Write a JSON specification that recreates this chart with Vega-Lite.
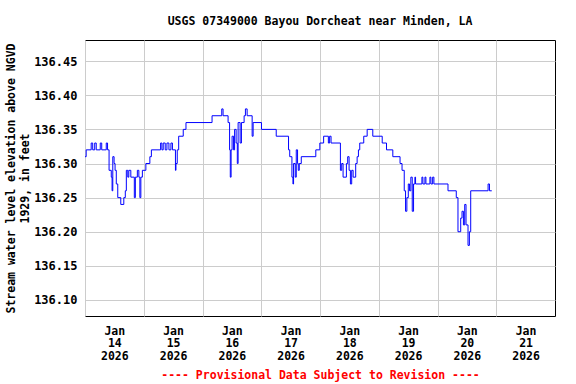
{
  "$schema": "https://vega.github.io/schema/vega-lite/v6.json",
  "width": 470,
  "height": 276,
  "autosize": {"type": "none"},
  "padding": {"left": 85, "top": 40, "right": 21, "bottom": 68},
  "background": "white",
  "title": {
    "text": "USGS 07349000 Bayou Dorcheat near Minden, LA",
    "font": "DejaVu Sans Mono",
    "fontSize": 11.5,
    "fontWeight": "bold",
    "color": "black",
    "anchor": "middle",
    "offset": 13
  },
  "data": {
    "values": [
      {"t": "2026-01-14T00:00", "v": 136.31},
      {"t": "2026-01-14T00:29", "v": 136.32},
      {"t": "2026-01-14T02:32", "v": 136.33},
      {"t": "2026-01-14T03:09", "v": 136.32},
      {"t": "2026-01-14T03:58", "v": 136.33},
      {"t": "2026-01-14T04:35", "v": 136.32},
      {"t": "2026-01-14T06:14", "v": 136.33},
      {"t": "2026-01-14T06:50", "v": 136.32},
      {"t": "2026-01-14T08:41", "v": 136.33},
      {"t": "2026-01-14T09:13", "v": 136.32},
      {"t": "2026-01-14T09:50", "v": 136.29},
      {"t": "2026-01-14T10:44", "v": 136.28},
      {"t": "2026-01-14T11:04", "v": 136.26},
      {"t": "2026-01-14T11:21", "v": 136.31},
      {"t": "2026-01-14T11:53", "v": 136.30},
      {"t": "2026-01-14T12:17", "v": 136.29},
      {"t": "2026-01-14T12:47", "v": 136.27},
      {"t": "2026-01-14T13:23", "v": 136.25},
      {"t": "2026-01-14T14:37", "v": 136.24},
      {"t": "2026-01-14T15:51", "v": 136.25},
      {"t": "2026-01-14T16:28", "v": 136.26},
      {"t": "2026-01-14T16:53", "v": 136.29},
      {"t": "2026-01-14T17:29", "v": 136.28},
      {"t": "2026-01-14T17:54", "v": 136.29},
      {"t": "2026-01-14T18:43", "v": 136.28},
      {"t": "2026-01-14T20:09", "v": 136.25},
      {"t": "2026-01-14T20:34", "v": 136.28},
      {"t": "2026-01-14T21:23", "v": 136.29},
      {"t": "2026-01-14T22:00", "v": 136.28},
      {"t": "2026-01-14T22:25", "v": 136.25},
      {"t": "2026-01-14T22:49", "v": 136.28},
      {"t": "2026-01-14T23:26", "v": 136.29},
      {"t": "2026-01-15T00:52", "v": 136.30},
      {"t": "2026-01-15T02:30", "v": 136.31},
      {"t": "2026-01-15T03:07", "v": 136.32},
      {"t": "2026-01-15T06:53", "v": 136.33},
      {"t": "2026-01-15T07:25", "v": 136.32},
      {"t": "2026-01-15T07:57", "v": 136.33},
      {"t": "2026-01-15T08:46", "v": 136.32},
      {"t": "2026-01-15T09:28", "v": 136.33},
      {"t": "2026-01-15T10:17", "v": 136.32},
      {"t": "2026-01-15T11:06", "v": 136.33},
      {"t": "2026-01-15T11:43", "v": 136.32},
      {"t": "2026-01-15T12:57", "v": 136.29},
      {"t": "2026-01-15T13:09", "v": 136.30},
      {"t": "2026-01-15T13:41", "v": 136.32},
      {"t": "2026-01-15T14:16", "v": 136.34},
      {"t": "2026-01-15T16:08", "v": 136.35},
      {"t": "2026-01-15T17:15", "v": 136.36},
      {"t": "2026-01-16T03:54", "v": 136.37},
      {"t": "2026-01-16T07:52", "v": 136.38},
      {"t": "2026-01-16T08:24", "v": 136.37},
      {"t": "2026-01-16T10:27", "v": 136.36},
      {"t": "2026-01-16T11:04", "v": 136.32},
      {"t": "2026-01-16T11:21", "v": 136.28},
      {"t": "2026-01-16T11:41", "v": 136.32},
      {"t": "2026-01-16T12:05", "v": 136.34},
      {"t": "2026-01-16T12:42", "v": 136.32},
      {"t": "2026-01-16T13:07", "v": 136.35},
      {"t": "2026-01-16T13:44", "v": 136.33},
      {"t": "2026-01-16T14:13", "v": 136.30},
      {"t": "2026-01-16T14:33", "v": 136.36},
      {"t": "2026-01-16T15:22", "v": 136.33},
      {"t": "2026-01-16T15:54", "v": 136.36},
      {"t": "2026-01-16T17:00", "v": 136.37},
      {"t": "2026-01-16T17:32", "v": 136.38},
      {"t": "2026-01-16T18:14", "v": 136.37},
      {"t": "2026-01-16T20:17", "v": 136.34},
      {"t": "2026-01-16T20:41", "v": 136.36},
      {"t": "2026-01-17T00:05", "v": 136.35},
      {"t": "2026-01-17T06:07", "v": 136.34},
      {"t": "2026-01-17T11:09", "v": 136.32},
      {"t": "2026-01-17T11:38", "v": 136.31},
      {"t": "2026-01-17T12:32", "v": 136.28},
      {"t": "2026-01-17T12:57", "v": 136.27},
      {"t": "2026-01-17T13:12", "v": 136.30},
      {"t": "2026-01-17T13:53", "v": 136.28},
      {"t": "2026-01-17T14:18", "v": 136.32},
      {"t": "2026-01-17T14:50", "v": 136.30},
      {"t": "2026-01-17T15:07", "v": 136.29},
      {"t": "2026-01-17T15:32", "v": 136.30},
      {"t": "2026-01-17T16:21", "v": 136.31},
      {"t": "2026-01-17T22:17", "v": 136.32},
      {"t": "2026-01-17T23:56", "v": 136.33},
      {"t": "2026-01-18T01:29", "v": 136.34},
      {"t": "2026-01-18T03:25", "v": 136.33},
      {"t": "2026-01-18T03:56", "v": 136.34},
      {"t": "2026-01-18T04:31", "v": 136.33},
      {"t": "2026-01-18T08:20", "v": 136.29},
      {"t": "2026-01-18T08:52", "v": 136.30},
      {"t": "2026-01-18T09:26", "v": 136.28},
      {"t": "2026-01-18T10:47", "v": 136.30},
      {"t": "2026-01-18T11:19", "v": 136.31},
      {"t": "2026-01-18T11:53", "v": 136.29},
      {"t": "2026-01-18T12:25", "v": 136.27},
      {"t": "2026-01-18T12:57", "v": 136.29},
      {"t": "2026-01-18T13:32", "v": 136.28},
      {"t": "2026-01-18T14:35", "v": 136.30},
      {"t": "2026-01-18T15:10", "v": 136.31},
      {"t": "2026-01-18T15:42", "v": 136.32},
      {"t": "2026-01-18T16:14", "v": 136.33},
      {"t": "2026-01-18T17:52", "v": 136.34},
      {"t": "2026-01-18T19:16", "v": 136.35},
      {"t": "2026-01-18T21:34", "v": 136.34},
      {"t": "2026-01-19T01:25", "v": 136.33},
      {"t": "2026-01-19T03:10", "v": 136.32},
      {"t": "2026-01-19T05:45", "v": 136.31},
      {"t": "2026-01-19T08:42", "v": 136.30},
      {"t": "2026-01-19T09:31", "v": 136.29},
      {"t": "2026-01-19T10:25", "v": 136.26},
      {"t": "2026-01-19T10:57", "v": 136.23},
      {"t": "2026-01-19T11:29", "v": 136.25},
      {"t": "2026-01-19T12:04", "v": 136.27},
      {"t": "2026-01-19T12:35", "v": 136.26},
      {"t": "2026-01-19T13:07", "v": 136.28},
      {"t": "2026-01-19T13:41", "v": 136.23},
      {"t": "2026-01-19T14:13", "v": 136.27},
      {"t": "2026-01-19T14:46", "v": 136.28},
      {"t": "2026-01-19T15:02", "v": 136.27},
      {"t": "2026-01-19T17:38", "v": 136.28},
      {"t": "2026-01-19T18:02", "v": 136.27},
      {"t": "2026-01-19T18:52", "v": 136.28},
      {"t": "2026-01-19T19:16", "v": 136.27},
      {"t": "2026-01-19T20:54", "v": 136.28},
      {"t": "2026-01-19T21:19", "v": 136.27},
      {"t": "2026-01-19T22:01", "v": 136.28},
      {"t": "2026-01-19T22:32", "v": 136.27},
      {"t": "2026-01-20T04:17", "v": 136.26},
      {"t": "2026-01-20T07:40", "v": 136.25},
      {"t": "2026-01-20T08:22", "v": 136.20},
      {"t": "2026-01-20T09:29", "v": 136.22},
      {"t": "2026-01-20T10:01", "v": 136.23},
      {"t": "2026-01-20T10:35", "v": 136.21},
      {"t": "2026-01-20T11:07", "v": 136.24},
      {"t": "2026-01-20T11:39", "v": 136.21},
      {"t": "2026-01-20T12:28", "v": 136.18},
      {"t": "2026-01-20T13:02", "v": 136.20},
      {"t": "2026-01-20T13:34", "v": 136.26},
      {"t": "2026-01-20T20:40", "v": 136.27},
      {"t": "2026-01-20T21:14", "v": 136.26},
      {"t": "2026-01-20T22:10", "v": 136.26}
    ]
  },
  "mark": {"type": "line", "interpolate": "step-after", "color": "#0000ff", "strokeWidth": 1, "clip": true},
  "encoding": {
    "x": {
      "field": "t",
      "type": "temporal",
      "scale": {
        "domain": [
          {"year": 2026, "month": "jan", "date": 14},
          {"year": 2026, "month": "jan", "date": 22}
        ]
      },
      "axis": {
        "values": [
          {"year": 2026, "month": "jan", "date": 14},
          {"year": 2026, "month": "jan", "date": 15},
          {"year": 2026, "month": "jan", "date": 16},
          {"year": 2026, "month": "jan", "date": 17},
          {"year": 2026, "month": "jan", "date": 18},
          {"year": 2026, "month": "jan", "date": 19},
          {"year": 2026, "month": "jan", "date": 20},
          {"year": 2026, "month": "jan", "date": 21}
        ],
        "labelExpr": "[timeFormat(datum.value, '%b'), timeFormat(datum.value, '%d'), timeFormat(datum.value, '%Y')]",
        "labelOffset": 29.3,
        "labelAlign": "center",
        "labelBaseline": "top",
        "labelPadding": 9,
        "labelLineHeight": 12.7,
        "labelFont": "DejaVu Sans Mono",
        "labelFontSize": 11.5,
        "labelFontWeight": "bold",
        "labelColor": "black",
        "labelFlush": false,
        "labelOverlap": false,
        "ticks": false,
        "domain": false,
        "grid": true,
        "gridColor": "#cccccc",
        "gridWidth": 1,
        "title": "---- Provisional Data Subject to Revision ----",
        "titleFont": "DejaVu Sans Mono",
        "titleFontSize": 11.5,
        "titleFontWeight": "bold",
        "titleColor": "red",
        "titlePadding": 8
      }
    },
    "y": {
      "field": "v",
      "type": "quantitative",
      "scale": {"domain": [136.0765, 136.481], "nice": false, "zero": false},
      "axis": {
        "values": [136.10, 136.15, 136.20, 136.25, 136.30, 136.35, 136.40, 136.45],
        "format": ".2f",
        "labelFont": "DejaVu Sans Mono",
        "labelFontSize": 12,
        "labelFontWeight": "bold",
        "labelColor": "black",
        "labelPadding": 8,
        "ticks": false,
        "domain": false,
        "grid": true,
        "gridColor": "#cccccc",
        "gridWidth": 1,
        "title": ["Stream water level elevation above NGVD", "1929, in feet"],
        "titleFont": "DejaVu Sans Mono",
        "titleFontSize": 11.5,
        "titleFontWeight": "bold",
        "titleColor": "black",
        "titleLineHeight": 14,
        "titlePadding": 3
      }
    }
  },
  "config": {
    "view": {"stroke": "black", "strokeWidth": 1}
  }
}
